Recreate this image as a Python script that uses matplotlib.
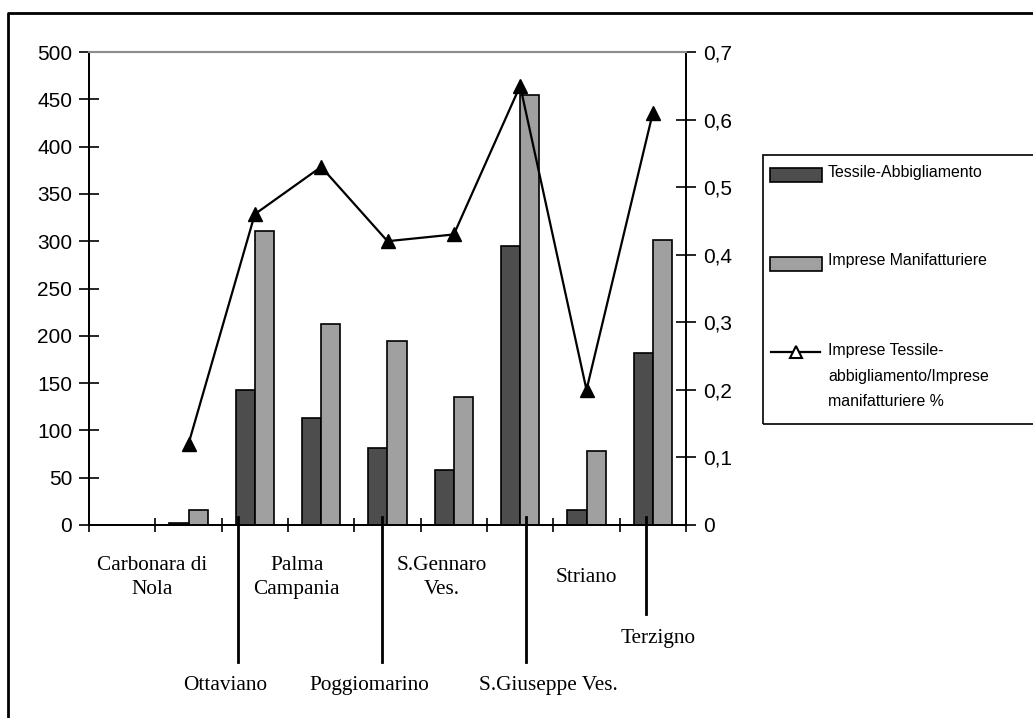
import numpy as np
import matplotlib
matplotlib.use("Agg")
import matplotlib.pyplot as plt
from matplotlib.patches import Rectangle
from matplotlib.lines import Line2D

# data
comuni = ["Carbonara di\nNola", "Ottaviano", "Palma\nCampania", "Poggiomarino",
          "S.Gennaro\nVes.", "S.Giuseppe Ves.", "Striano", "Terzigno"]
tessile = [2, 143, 113, 81, 58, 295, 16, 182]
manifatturiere = [16, 311, 212, 194, 135, 455, 78, 301]
rapporto = [0.12, 0.46, 0.53, 0.42, 0.43, 0.65, 0.20, 0.61]

# label layout: text x offset, leader line offset, row
lab_dx = [-0.55, -0.45, -0.37, -0.27, -0.18, 0.43, -0.01, 0.08]
lead_dx = [None, -0.26, None, -0.09, None, 0.09, None, -0.1]
row = [0, 2, 0, 2, 0, 2, 0, 1]

W, H = 1033, 718
fig = plt.figure(figsize=(W / 100, H / 100), dpi=100)
ax = fig.add_axes([89 / W, (H - 525) / H, (686 - 89) / W, (525 - 52) / H])
ax2 = ax.twinx()

x = np.arange(1, len(comuni) + 1)
bw = 0.29
ax.bar(x - bw / 2, tessile, bw, color="#4d4d4d", edgecolor="black", linewidth=1.2, zorder=2)
ax.bar(x + bw / 2, manifatturiere, bw, color="#a0a0a0", edgecolor="black", linewidth=1.2, zorder=2)
ax.set_xlim(-0.5, len(comuni) + 0.5)
ax.set_ylim(0, 500)
ax.set_yticks(np.arange(0, 501, 50))
ax.set_xticks(np.arange(-0.5, len(comuni) + 0.6, 1))
ax.set_xticklabels([])

ax2.plot(x, rapporto, color="black", lw=1.6, marker="^", ms=10, mfc="black", mec="black", zorder=5)
ax2.set_ylim(0, 0.7)
ax2.set_yticks(np.arange(0, 0.71, 0.1))
ax2.set_yticklabels(["0"] + [f"{v:.1f}".replace(".", ",") for v in np.arange(0.1, 0.71, 0.1)])

for a in (ax, ax2):
    a.spines["top"].set_color("#8c8c8c")
    a.spines["top"].set_linewidth(1.5)
    for s in ("left", "right", "bottom"):
        a.spines[s].set_linewidth(1.3)
    a.set_facecolor("none")
ax.tick_params(axis="y", direction="inout", length=14, width=1.2, pad=5,
               labelsize=15, labelfontfamily="Liberation Sans")
ax2.tick_params(axis="y", direction="inout", length=14, width=1.2, pad=5,
                labelsize=15, labelfontfamily="Liberation Sans")
ax.tick_params(axis="x", direction="inout", length=10, width=1.2)

trans = ax.get_xaxis_transform()
row_y = [-0.111, -0.239, -0.340]
lead_end = [None, -0.188, -0.290]
for i, name in enumerate(comuni):
    ax.text(x[i] + lab_dx[i], row_y[row[i]], name, transform=trans, ha="center", va="center",
            fontsize=15.3, family="Liberation Serif", linespacing=1.3)
    if lead_dx[i] is not None:
        ax.plot([x[i] + lead_dx[i]] * 2, [0.017, lead_end[row[i]]], transform=trans,
                color="black", lw=2, clip_on=False, zorder=6)

# legend box drawn in figure pixels
def fx(p): return p / W
def fy(p): return (H - p) / H

fig.patches.append(Rectangle((fx(763), fy(424)), fx(1045) - fx(763), fy(155) - fy(424),
                             transform=fig.transFigure, fill=False, ec="black", lw=1.2))
fig.patches.append(Rectangle((fx(770), fy(182)), fx(822) - fx(770), fy(168) - fy(182),
                             transform=fig.transFigure, fc="#4d4d4d", ec="black", lw=1.2))
fig.patches.append(Rectangle((fx(770), fy(271)), fx(822) - fx(770), fy(257) - fy(271),
                             transform=fig.transFigure, fc="#a0a0a0", ec="black", lw=1.2))
fig.lines.append(Line2D([fx(771), fx(820)], [fy(352), fy(352)], transform=fig.transFigure,
                        color="black", lw=1.6))
fig.lines.append(Line2D([fx(796)], [fy(352)], transform=fig.transFigure, marker="^", ms=9,
                        mfc="white", mec="black", mew=1.5))
legend_font = dict(fontsize=11.4, family="Liberation Sans", va="center", ha="left")
fig.text(fx(828), fy(172), "Tessile-Abbigliamento", **legend_font)
fig.text(fx(828), fy(261), "Imprese Manifatturiere", **legend_font)
fig.text(fx(828), fy(350), "Imprese Tessile-", **legend_font)
fig.text(fx(828), fy(376), "abbigliamento/Imprese", **legend_font)
fig.text(fx(828), fy(402), "manifatturiere %", **legend_font)

# outer frame (only left and top edges are visible in the reference)
fig.lines.append(Line2D([fx(8), fx(8), fx(1040)], [fy(725), fy(13), fy(13)],
                        transform=fig.transFigure, color="black", lw=2))

fig.savefig("out.png", dpi=100)
